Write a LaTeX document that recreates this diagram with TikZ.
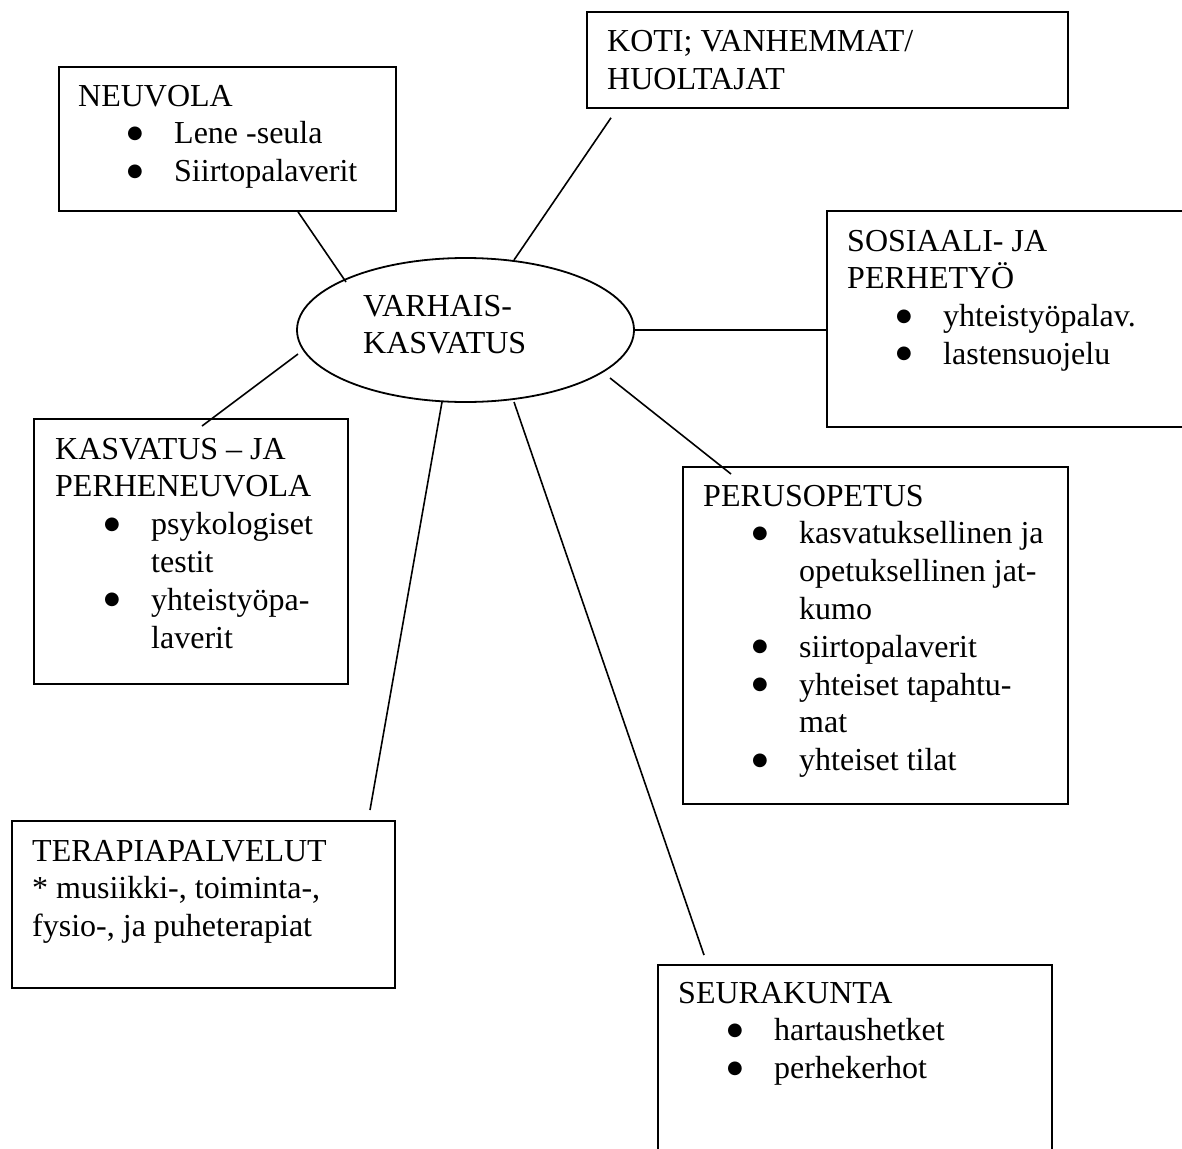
\documentclass[tikz,border=0pt]{standalone}
\usepackage{fontspec}
\setmainfont{Liberation Serif}
\newfontfamily\symfont{DejaVu Sans}
\usetikzlibrary{shapes.geometric,calc}
\newcommand{\bigfont}{\fontsize{32pt}{37.8pt}\selectfont}
\newcommand{\bigbullet}{\raisebox{5.5pt}{\symfont\fontsize{18pt}{20pt}\selectfont ●}}
\newcommand{\bitem}[1]{\hspace*{49pt}\makebox[47pt][l]{\bigbullet}#1}
\newcommand{\contline}[1]{\hspace*{96pt}#1}
\newcommand{\txtbox}[1]{\parbox[t]{600pt}{\bigfont #1}}
\tikzset{
  box/.style={draw, line width=1.8pt, anchor=north west, inner sep=0pt},
  txt/.style={anchor=base west, inner sep=0pt, font=\bigfont},
  conn/.style={line width=1.6pt},
  hub/.style={draw, ellipse, line width=1.8pt, inner sep=0pt, minimum width=337pt, minimum height=144pt}
}
\begin{document}
\begin{tikzpicture}[x=1pt,y=-1pt]
\useasboundingbox (0,0) rectangle (1182,1148);
\clip (0,0) rectangle (1182,1148);

% boxes
\node[box, minimum width=337pt, minimum height=144pt] (neu) at (58,66) {};
\node[box, minimum width=481pt, minimum height=96pt] (koti) at (586,11) {};
\node[box, minimum width=380pt, minimum height=216pt] (sos) at (826,210) {};
\node[box, minimum width=314pt, minimum height=265pt] (kas) at (33,418) {};
\node[box, minimum width=385pt, minimum height=337pt] (per) at (682,466) {};
\node[box, minimum width=383pt, minimum height=167pt] (ter) at (11,820) {};
\node[box, minimum width=394pt, minimum height=220pt] (seu) at (657,964) {};

% hub
\node[hub] (vk) at (465.5,330) {};
\node[txt] (vkt) at (363,316) {\txtbox{VARHAIS-\\KASVATUS}};

% texts
\node[txt] (neut) at (78,106) {\txtbox{NEUVOLA\\\bitem{Lene -seula}\\\bitem{Siirtopalaverit}}};
\node[txt] (kotit) at (607,52) {\txtbox{KOTI; VANHEMMAT/\\HUOLTAJAT}};
\node[txt] (sost) at (847,251) {\txtbox{SOSIAALI- JA\\PERHETYÖ\\\bitem{yhteistyöpalav.}\\\bitem{lastensuojelu}}};
\node[txt] (kast) at (55,459) {\txtbox{KASVATUS – JA\\PERHENEUVOLA\\\bitem{psykologiset}\\\contline{testit}\\\bitem{yhteistyöpa-}\\\contline{laverit}}};
\node[txt] (pert) at (703,506) {\txtbox{PERUSOPETUS\\\bitem{kasvatuksellinen ja}\\\contline{opetuksellinen jat-}\\\contline{kumo}\\\bitem{siirtopalaverit}\\\bitem{yhteiset tapahtu-}\\\contline{mat}\\\bitem{yhteiset tilat}}};
\node[txt] (tert) at (32,861) {\txtbox{TERAPIAPALVELUT\\{}* musiikki-, toiminta-,\\fysio-, ja puheterapiat}};
\node[txt] (seut) at (678,1003) {\txtbox{SEURAKUNTA\\\bitem{hartaushetket}\\\bitem{perhekerhot}}};

% connectors
\draw[conn] ($(neu.south west)+(240,0)$) -- ($(vk.center)+(-119.5,-48)$);
\draw[conn] ($(koti.south west)+(25,9)$) -- ($(vk.center)+(48.5,-70)$);
\draw[conn] (vk.east) -- (vk.east -| sos.west);
\draw[conn] ($(vk.center)+(-167.5,24)$) -- ($(kas.north west)+(169,8)$);
\draw[conn] ($(vk.center)+(144.5,48)$) -- ($(per.north west)+(49,8)$);
\draw[conn] ($(vk.center)+(-23.5,72)$) -- ($(ter.north west)+(359,-10)$);
\draw[conn] ($(vk.center)+(48.5,72)$) -- ($(seu.north west)+(47,-9)$);
\end{tikzpicture}
\end{document}
